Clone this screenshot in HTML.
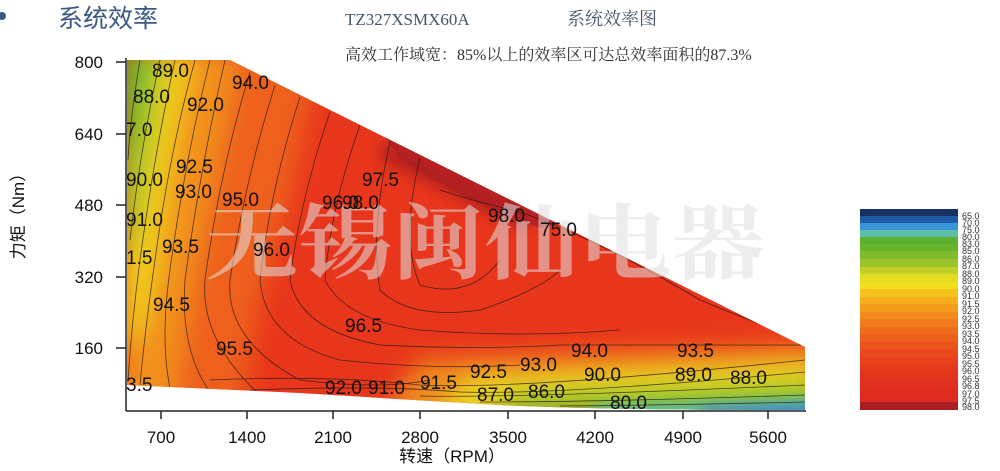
<!DOCTYPE html>
<html><head><meta charset="utf-8"><style>
html,body{margin:0;padding:0;background:#fff;}
svg{display:block;}
</style></head><body>
<svg width="1000" height="471" viewBox="0 0 1000 471" xmlns="http://www.w3.org/2000/svg" font-family="Liberation Sans, sans-serif">
<defs>
<clipPath id="reg"><path d="M127,60 L230,60 L805,347 L805,410 Q600,410 500,405 Q380,398 300,393 L127,385 Z"/></clipPath>
<filter id="b1" x="-50%" y="-50%" width="200%" height="200%"><feGaussianBlur stdDeviation="12"/></filter>
<filter id="b2" x="-50%" y="-50%" width="200%" height="200%"><feGaussianBlur stdDeviation="6"/></filter>
</defs>
<rect width="1000" height="471" fill="#fff"/>
<circle cx="2" cy="16" r="4" fill="#3b5a80"/>
<text x="58" y="27" font-size="25" fill="#3b5a80" font-family="Liberation Sans, Noto Sans CJK SC, sans-serif">系统效率</text>
<text x="345" y="25" font-size="17" fill="#445566" font-family="Liberation Serif, serif">TZ327XSMX60A</text>
<text x="567" y="25" font-size="18" fill="#445566" font-family="Liberation Serif, Noto Serif CJK SC, serif">系统效率图</text>
<text x="345" y="60" font-size="16" fill="#333" font-family="Liberation Serif, Noto Serif CJK SC, serif">高效工作域宽：85%以上的效率区可达总效率面积的87.3%</text>

<g clip-path="url(#reg)">
<rect x="120" y="55" width="700" height="360" fill="#e8361c"/>
<g filter="url(#b1)">
<path d="M120,50 L320,50 L290,200 L260,300 L240,420 L120,420Z" fill="#ee601e"/>
<path d="M120,50 L240,50 L210,200 L190,300 L170,420 L120,420Z" fill="#f2901c"/>
<path d="M120,50 L195,50 L175,150 L160,260 L145,330 L120,350Z" fill="#f0cc1e"/>
<path d="M120,50 L165,50 L150,150 L136,240 L120,260Z" fill="#9cc82a"/>
<path d="M120,50 L145,50 L133,140 L120,170Z" fill="#5eb02c"/>
<path d="M420,360 L820,345 L820,420 L380,420Z" fill="#f08a1c"/>
<path d="M470,378 L820,363 L820,420 L430,420Z" fill="#e8d820"/>
<path d="M520,395 L820,385 L820,420 L480,420Z" fill="#7cbf2a"/>
</g>
<g filter="url(#b2)">
<path d="M600,405 L820,398 L820,420 L580,420Z" fill="#5cc0a0"/>
<path d="M700,408 L820,403 L820,420 L700,420Z" fill="#3a86c8"/>
<path d="M380,140 L540,220 L520,230 L380,160Z" fill="#b8201e"/>
</g>
<path d="M385,137 L560,224 L540,228 L470,200 L400,160Z" fill="#b01f22" opacity="0.85"/>
<g fill="none" stroke="#2a1a10" stroke-width="0.8" opacity="0.8">
<path d="M140,60 Q130,120 128,160"/>
<path d="M160,60 Q140,150 130,240"/>
<path d="M175,60 Q155,150 140,260 Q132,320 128,380"/>
<path d="M195,60 Q170,150 155,260 Q145,330 140,385"/>
<path d="M210,60 Q185,160 170,270 Q160,340 170,388"/>
<path d="M225,60 Q200,170 185,280 Q180,350 210,392"/>
<path d="M250,72 Q220,170 205,280 Q200,340 260,395"/>
<path d="M275,85 Q245,180 230,280 Q225,340 300,380 Q380,390 430,380"/>
<path d="M300,97 Q270,190 260,280 Q265,340 340,360 Q430,370 520,365"/>
<path d="M330,112 Q300,200 290,280 Q300,330 380,345 Q480,350 560,345 Q660,345 805,345"/>
<path d="M360,125 Q330,210 325,280 Q345,320 420,330 Q520,338 620,330"/>
<path d="M390,142 Q370,230 380,290 Q410,320 480,310 Q540,290 560,270"/>
<path d="M420,158 Q400,240 420,285 Q470,300 500,260"/>
<path d="M440,190 Q470,200 520,212 Q600,240 700,300 Q760,325 805,340"/>
<path d="M210,380 Q330,375 420,385 Q520,390 805,360"/>
<path d="M250,390 Q380,385 460,392 Q560,395 805,372"/>
<path d="M420,396 Q520,398 805,385"/>
<path d="M480,402 Q600,402 805,395"/>
<path d="M560,406 Q680,405 805,402"/>
</g>
</g>

<text x="205" y="272" font-size="82" fill="#e0e0e0" opacity="0.55" font-family="Liberation Serif, Noto Serif CJK SC, serif" font-weight="bold" textLength="560" lengthAdjust="spacingAndGlyphs">无锡闽仙电器</text>

<g font-size="19" fill="#111">
<text x="152" y="77">89.0</text>
<text x="232" y="89">94.0</text>
<text x="133" y="103">88.0</text>
<text x="187" y="111">92.0</text>
<text x="126" y="136">7.0</text>
<text x="176" y="173">92.5</text>
<text x="126" y="186">90.0</text>
<text x="175" y="198">93.0</text>
<text x="222" y="206">95.0</text>
<text x="322" y="209">96.0</text>
<text x="342" y="209">98.0</text>
<text x="362" y="186">97.5</text>
<text x="488" y="222">98.0</text>
<text x="540" y="236">75.0</text>
<text x="126" y="226">91.0</text>
<text x="162" y="253">93.5</text>
<text x="126" y="264">1.5</text>
<text x="253" y="256">96.0</text>
<text x="153" y="311">94.5</text>
<text x="345" y="332">96.5</text>
<text x="216" y="355">95.5</text>
<text x="571" y="357">94.0</text>
<text x="677" y="357">93.5</text>
<text x="520" y="371">93.0</text>
<text x="470" y="378">92.5</text>
<text x="584" y="381">90.0</text>
<text x="675" y="381">89.0</text>
<text x="730" y="384">88.0</text>
<text x="126" y="391">3.5</text>
<text x="325" y="394">92.0</text>
<text x="368" y="394">91.0</text>
<text x="420" y="389">91.5</text>
<text x="477" y="401">87.0</text>
<text x="528" y="398">86.0</text>
<text x="610" y="409">80.0</text>
</g>

<g stroke="#222" stroke-width="1.5">
<line x1="126" y1="58" x2="126" y2="411"/>
<line x1="126" y1="411" x2="806" y2="411"/>
<line x1="116" y1="62" x2="126" y2="62"/><line x1="116" y1="134" x2="126" y2="134"/>
<line x1="116" y1="205" x2="126" y2="205"/><line x1="116" y1="277" x2="126" y2="277"/>
<line x1="116" y1="348" x2="126" y2="348"/>
<line x1="161" y1="411" x2="161" y2="419"/><line x1="247" y1="411" x2="247" y2="419"/>
<line x1="333" y1="411" x2="333" y2="419"/><line x1="420" y1="411" x2="420" y2="419"/>
<line x1="508" y1="411" x2="508" y2="419"/><line x1="595" y1="411" x2="595" y2="419"/>
<line x1="683" y1="411" x2="683" y2="419"/><line x1="768" y1="411" x2="768" y2="419"/>
</g>
<g font-size="17" fill="#111" text-anchor="end">
<text x="103" y="68">800</text><text x="103" y="140">640</text><text x="103" y="211">480</text>
<text x="103" y="283">320</text><text x="103" y="354">160</text>
</g>
<g font-size="17" fill="#111" text-anchor="middle">
<text x="161" y="443">700</text><text x="247" y="443">1400</text><text x="333" y="443">2100</text>
<text x="420" y="443">2800</text><text x="508" y="443">3500</text><text x="595" y="443">4200</text>
<text x="683" y="443">4900</text><text x="768" y="443">5600</text>
</g>
<text x="452" y="462" font-size="17" fill="#111" text-anchor="middle" font-family="Liberation Sans, Noto Sans CJK SC, sans-serif">转速（RPM）</text>
<text transform="translate(24,212) rotate(-90)" font-size="17" fill="#111" text-anchor="middle" font-family="Liberation Sans, Noto Sans CJK SC, sans-serif">力矩（Nm）</text>

<g>
<rect x="860" y="209" width="98" height="7" fill="#1a3060"/>
<rect x="860" y="216" width="98" height="7" fill="#1f5aa6"/>
<rect x="860" y="223" width="98" height="7" fill="#3a94d8"/>
<rect x="860" y="230" width="98" height="7" fill="#5ec0a8"/>
<rect x="860" y="237" width="98" height="7" fill="#5cb030"/>
<rect x="860" y="244" width="98" height="7" fill="#68b42c"/>
<rect x="860" y="251" width="98" height="8" fill="#80bc2c"/>
<rect x="860" y="259" width="98" height="8" fill="#9cc42a"/>
<rect x="860" y="267" width="98" height="7" fill="#c0d026"/>
<rect x="860" y="274" width="98" height="8" fill="#e4dc22"/>
<rect x="860" y="282" width="98" height="7" fill="#f2e020"/>
<rect x="860" y="289" width="98" height="8" fill="#f6c41c"/>
<rect x="860" y="297" width="98" height="7" fill="#f6ae1c"/>
<rect x="860" y="304" width="98" height="8" fill="#f49c1c"/>
<rect x="860" y="312" width="98" height="7" fill="#f28a1c"/>
<rect x="860" y="319" width="98" height="8" fill="#f07a1c"/>
<rect x="860" y="327" width="98" height="7" fill="#ee6c1c"/>
<rect x="860" y="334" width="98" height="8" fill="#ec601c"/>
<rect x="860" y="342" width="98" height="7" fill="#ea541c"/>
<rect x="860" y="349" width="98" height="8" fill="#e84a1c"/>
<rect x="860" y="357" width="98" height="7" fill="#e8421c"/>
<rect x="860" y="364" width="98" height="8" fill="#e63a1c"/>
<rect x="860" y="372" width="98" height="7" fill="#e4341c"/>
<rect x="860" y="379" width="98" height="8" fill="#e2301e"/>
<rect x="860" y="387" width="98" height="7" fill="#e02c1e"/>
<rect x="860" y="394" width="98" height="8" fill="#de2a20"/>
<rect x="860" y="402" width="98" height="8" fill="#a81e22"/>
</g>
<g font-size="9" fill="#333">
<text x="962" y="219">65.0</text><text x="962" y="226">70.0</text><text x="962" y="233">75.0</text>
<text x="962" y="240">80.0</text><text x="962" y="247">83.0</text><text x="962" y="254">85.0</text>
<text x="962" y="262">86.0</text><text x="962" y="269">87.0</text><text x="962" y="277">88.0</text>
<text x="962" y="284">89.0</text><text x="962" y="292">90.0</text><text x="962" y="299">91.0</text>
<text x="962" y="307">91.5</text><text x="962" y="314">92.0</text><text x="962" y="322">92.5</text>
<text x="962" y="329">93.0</text><text x="962" y="337">93.5</text><text x="962" y="344">94.0</text>
<text x="962" y="352">94.5</text><text x="962" y="359">95.0</text><text x="962" y="367">95.5</text>
<text x="962" y="374">96.0</text><text x="962" y="382">96.5</text><text x="962" y="389">96.8</text>
<text x="962" y="397">97.0</text><text x="962" y="404">97.5</text><text x="962" y="410">98.0</text>
</g>
</svg>
</body></html>
